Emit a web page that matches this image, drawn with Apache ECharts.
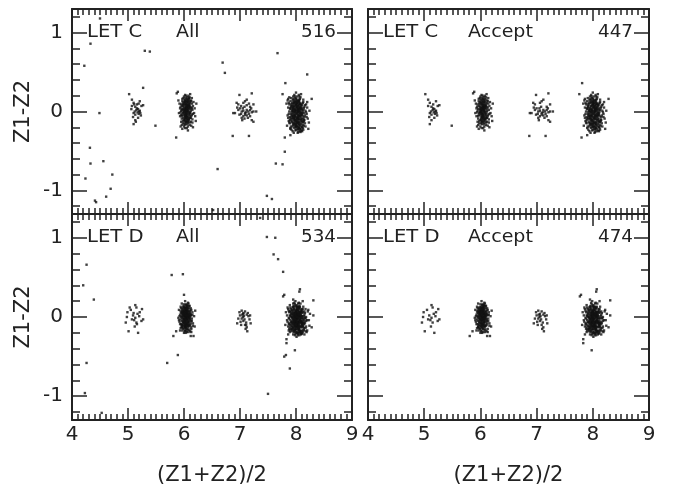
<!DOCTYPE html>
<html>
<head>
<meta charset="utf-8">
<script src="https://cdn.jsdelivr.net/npm/echarts@6/dist/echarts.min.js"></script>
<style>
  html, body { margin: 0; padding: 0; background: #fff; }
  #chart { width: 673px; height: 487px; }
</style>
</head>
<body>
<div id="chart"></div>
<script>
// ---- tick values ----
const xRange = [4, 9];
const yRange = [-1.3, 1.3];
const yMajorTicks = [-1, 0, 1];
const yMinorTicks = [-1.2, -0.8, -0.6, -0.4, -0.2, 0.2, 0.4, 0.6, 0.8, 1.2];

// ---- panel annotations ----
const letNames = ['LET C', 'LET C', 'LET D', 'LET D'];
const selNames = ['All', 'Accept', 'All', 'Accept'];

// ---- LET C events: [ (Z1+Z2)/2 , Z1-Z2 ] ----
const letC_accepted = [
  // Z ~ 5
  [5.02,0.22],[5.07,0.15],[5.10,0.11],[5.13,0.06],[5.15,0.02],[5.10,-0.02],[5.13,-0.04],[5.18,0.03],[5.21,0.01],[5.18,-0.08],
  [5.13,-0.11],[5.10,-0.16],[5.21,0.13],[5.24,0.07],[5.27,0.08],[5.19,-0.03],[5.22,-0.02],[5.16,0.04],[5.07,0.07],[5.20,0.00],
  [5.17,-0.01],[5.49,-0.18],[5.12,0.00],[5.16,0.09],[5.09,-0.07],[5.23,-0.05],
  // Z ~ 6
  [6.02,0.01],[6.05,-0.03],[6.08,0.04],[5.99,0.06],[6.04,0.09],[6.11,-0.01],[6.07,-0.07],[5.97,-0.04],[6.01,-0.09],[6.13,0.05],
  [6.06,0.02],[6.03,0.05],[6.09,-0.04],[6.00,0.02],[5.98,0.10],[6.10,0.08],[6.04,-0.06],[6.12,-0.08],[5.95,0.01],[6.07,0.12],
  [6.02,-0.12],[6.15,0.02],[6.05,0.14],[5.96,-0.09],[6.09,-0.11],[6.01,0.15],[6.14,-0.04],[6.03,-0.02],[6.06,0.06],[6.00,-0.05],
  [6.08,0.00],[5.99,-0.01],[6.11,0.11],[6.04,0.03],[6.07,-0.14],[5.94,0.06],[6.16,0.07],[6.02,0.08],[6.05,-0.10],[6.10,-0.06],
  [5.97,0.13],[6.13,0.13],[6.03,-0.16],[6.18,-0.02],[5.93,-0.06],[6.06,0.18],[6.00,0.19],[6.12,-0.13],[5.98,-0.15],[6.09,0.16],
  [6.04,0.00],[6.07,0.03],[6.01,-0.03],[6.05,0.07],[6.08,-0.09],[6.02,0.12],[5.96,0.03],[6.11,0.03],[6.06,-0.05],[6.03,0.10],
  [6.15,-0.10],[5.92,0.10],[6.19,0.04],[6.00,-0.19],[6.10,-0.17],[6.05,-0.21],[5.95,-0.13],[6.14,0.17],[6.20,-0.06],[5.91,-0.02],
  [6.02,0.21],[6.08,0.20],[6.13,-0.18],[5.99,0.17],[6.17,0.12],[6.04,-0.13],[6.06,0.10],[6.01,0.05],[6.09,0.07],[6.03,-0.07],
  [5.87,0.23],[5.89,0.25],[5.90,0.14],[6.22,0.10],[6.21,-0.12],[5.94,-0.19],[6.16,-0.20],[6.07,-0.24],[5.97,-0.22],[6.11,0.22],
  [6.04,0.04],[6.01,-0.01],[6.07,0.01],[6.03,-0.04],[6.06,0.08],[5.99,0.03],[6.09,0.05],[6.02,-0.07],[6.05,0.12],[6.08,-0.02],
  [6.00,0.09],[6.04,-0.08],[6.10,-0.03],[5.98,-0.02],[6.06,-0.10],[6.03,0.02],[6.12,0.01],[6.01,0.11],[6.07,-0.12],[5.97,0.07],
  [6.05,0.05],[6.02,0.14],[6.09,0.10],[6.04,-0.04],[5.96,-0.06],[6.11,0.06],[6.00,-0.11],[6.08,0.13],[6.03,-0.13],[6.06,-0.01],
  [6.13,-0.06],[5.99,0.12],[6.05,0.16],[6.01,0.03],[6.10,-0.14],[5.95,0.09],[6.07,0.15],[6.04,0.06],[6.02,-0.10],[6.08,0.07],
  [6.14,0.10],[5.98,-0.12],[6.06,-0.16],[6.03,0.17],[6.11,-0.08],[5.94,-0.01],[6.00,0.00],[6.09,-0.09],[6.05,-0.07],[6.12,0.14],
  [5.97,0.16],[6.16,-0.03],[6.01,-0.15],[6.07,-0.19],[5.93,0.04],[6.15,-0.14],[6.04,0.20],[6.10,0.18],[5.96,-0.17],[6.02,-0.21],
  // Z ~ 7
  [6.99,0.21],[7.21,0.23],[7.12,0.15],[7.09,0.13],[7.06,0.11],[6.94,0.11],[7.00,0.04],[6.97,0.02],[6.91,-0.02],[7.03,0.00],
  [7.06,0.01],[7.09,-0.02],[7.12,0.02],[7.15,0.00],[7.18,0.02],[7.21,-0.01],[7.24,0.00],[7.29,0.00],[7.12,-0.05],[7.09,-0.04],
  [7.06,-0.06],[7.18,-0.06],[7.21,-0.11],[7.24,-0.13],[7.03,-0.08],[6.99,-0.04],[6.88,-0.02],[7.18,0.06],[7.24,0.09],[7.05,0.04],
  [7.11,-0.01],[7.16,-0.03],[6.87,-0.31],[7.16,-0.31],[7.02,-0.03],[6.95,0.05],[7.08,0.06],[7.14,-0.08],[6.97,0.09],[7.20,0.04],
  [7.04,-0.11],
  // Z ~ 8
  [8.01,-0.03],[7.98,0.02],[8.05,-0.06],[7.95,-0.08],[8.08,0.03],[8.03,0.07],[7.97,-0.12],[8.10,-0.09],[7.93,0.01],[8.06,-0.14],
  [8.00,0.05],[8.04,-0.01],[7.99,-0.05],[8.12,0.00],[7.91,-0.03],[8.02,0.10],[7.96,0.06],[8.09,0.08],[8.07,-0.18],[7.94,-0.15],
  [8.02,-0.08],[7.99,-0.10],[8.05,0.01],[8.11,-0.04],[7.92,0.07],[8.03,-0.20],[8.14,0.04],[7.97,0.11],[8.06,0.12],[7.89,-0.07],
  [8.00,-0.16],[8.08,-0.11],[7.95,-0.01],[8.04,0.04],[8.13,-0.13],[7.98,-0.19],[8.01,0.13],[7.90,0.03],[8.10,0.07],[8.07,-0.02],
  [7.96,-0.04],[8.03,0.02],[7.99,0.08],[8.05,-0.10],[7.93,-0.10],[8.15,-0.07],[8.02,-0.13],[7.88,0.00],[8.09,-0.16],[8.00,0.16],
  [7.94,0.09],[8.12,0.11],[8.06,0.15],[7.97,0.15],[8.04,-0.23],[7.91,-0.19],[8.17,0.01],[7.87,-0.12],[8.11,-0.20],[7.99,-0.24],
  [8.08,0.18],[7.95,0.19],[8.02,0.19],[8.16,-0.15],[7.86,0.05],[8.18,0.09],[7.92,-0.23],[8.07,-0.25],[8.13,0.15],[7.90,0.13],
  [8.01,0.00],[8.03,-0.05],[7.98,-0.07],[8.06,-0.04],[8.00,-0.12],[7.96,0.03],[8.05,0.08],[8.08,-0.07],[7.93,-0.06],[8.10,0.02],
  [8.02,0.05],[7.97,-0.01],[8.04,-0.15],[7.99,0.01],[8.09,-0.01],[7.95,-0.17],[8.11,-0.12],[8.01,0.09],[7.92,0.04],[8.07,0.06],
  [8.14,-0.10],[7.89,-0.15],[8.03,0.13],[7.98,-0.14],[8.06,-0.21],[8.00,-0.20],[7.94,0.14],[8.12,-0.17],[8.15,0.06],[7.88,0.09],
  [8.19,-0.03],[7.85,-0.05],[8.05,0.21],[7.97,0.21],[8.10,-0.24],[7.96,-0.27],[8.03,-0.27],[8.21,-0.09],[8.20,0.12],[7.84,-0.18],
  [8.24,0.01],[8.28,0.16],[7.86,0.16],[8.13,-0.23],[7.91,0.17],[8.09,0.22],[8.00,0.24],[8.17,-0.19],[8.22,-0.22],[7.83,0.10],
  [7.81,0.36],[7.76,0.22],[7.80,-0.33],[7.90,-0.30],[8.04,0.03],[7.99,-0.02],[8.02,-0.10],[8.07,0.10],[7.97,0.07],[8.05,-0.17],
  [8.02,-0.02],[7.99,0.03],[8.04,-0.07],[7.96,-0.09],[8.07,0.01],[8.01,0.06],[7.98,-0.11],[8.09,-0.05],[7.94,0.02],[8.05,-0.13],
  [8.00,0.08],[8.03,0.00],[7.97,-0.06],[8.11,-0.02],[7.92,-0.05],[8.01,0.11],[7.95,0.04],[8.08,0.05],[8.06,-0.16],[7.93,-0.13],
  [8.03,-0.09],[7.98,-0.04],[8.06,0.03],[8.12,-0.06],[7.91,0.09],[8.02,-0.18],[8.13,0.02],[7.96,0.12],[8.05,0.14],[7.90,-0.09],
  [7.99,-0.17],[8.09,-0.13],[7.94,-0.03],[8.05,0.05],[8.14,-0.12],[7.97,-0.21],[8.02,0.15],[7.89,0.04],[8.11,0.09],[8.08,-0.04],
  [7.95,-0.06],[8.04,0.01],[8.00,0.10],[8.06,-0.09],[7.92,-0.08],[8.16,-0.05],[8.01,-0.14],[7.87,-0.03],[8.10,-0.19],[7.99,0.17],
  [7.93,0.11],[8.13,0.12],[8.07,0.16],[7.98,0.13],[8.03,-0.22],[7.90,-0.21],[8.18,-0.01],[7.88,-0.14],[8.12,-0.21],[8.00,-0.23],
  [8.04,-0.04],[8.01,-0.07],[7.97,-0.10],[8.07,-0.06],[8.02,-0.15],[7.95,0.01],[8.06,0.09],[8.09,-0.10],[7.92,-0.01],[8.11,0.04],
  [8.03,0.07],[7.98,0.00],[8.05,-0.20],[7.96,-0.15],[8.10,-0.03],[7.94,-0.19],[8.12,-0.14],[8.00,0.12],[7.91,0.06],[8.08,0.10],
  [8.15,-0.11],[7.89,-0.11],[8.04,0.11],[7.97,-0.16],[8.07,-0.22],[8.01,-0.19],[7.95,0.16],[8.14,-0.18],[8.16,0.08],[7.87,0.11],
  [8.19,-0.07],[7.86,-0.08],[8.06,0.19],[7.98,0.19],[8.11,-0.25],[7.94,-0.25],[8.04,-0.26],[8.20,0.05],[8.23,-0.14],[7.85,0.14]
];
const letC_rejected = [
  [4.50,1.18],[4.33,0.86],[4.22,0.58],[4.49,-0.02],[4.32,-0.46],[4.33,-0.66],[4.56,-0.63],[4.24,-0.85],[4.72,-0.80],[4.69,-0.98],
  [4.61,-1.08],[4.41,-1.13],[4.43,-1.15],[5.30,0.77],[5.39,0.76],[5.27,0.30],[5.86,-0.33],[6.69,0.62],[6.73,0.49],[6.60,-0.73],
  [6.52,-1.25],[7.67,0.74],[7.80,-0.51],[7.64,-0.66],[7.76,-0.67],[7.48,-1.07],[7.57,-1.11],[8.20,0.47],
  [6.04,-0.01],[6.10,0.13],[5.98,0.08],[8.03,-0.09],[7.95,0.05],[8.08,-0.22],[7.12,0.08],[5.11,0.09],
  [6.05,0.01],[6.02,-0.05],[6.08,0.09],[5.99,-0.08],[6.06,-0.13],[6.03,0.13],[6.11,-0.02],[5.97,0.02],[6.09,0.17],[6.01,-0.17],
  [6.14,0.04],[5.95,-0.04],
  [8.01,0.02],[7.97,-0.08],[8.06,-0.01],[8.03,-0.12],[7.94,0.07],[8.09,0.04],[8.00,-0.18],[7.92,-0.12],[8.12,-0.09],[8.05,0.13],
  [7.96,0.10],[8.14,-0.02],[7.90,-0.22],[8.08,-0.26],[7.88,0.18],
  [7.02,0.07],[7.16,0.10],[7.08,-0.09],[5.06,0.03],[5.19,0.10],[5.14,-0.13]
];

// ---- LET D events ----
const letD_accepted = [
  // Z ~ 5
  [4.99,0.06],[4.98,0.00],[4.96,-0.07],[5.01,-0.18],[5.13,0.15],[5.15,0.12],[5.09,0.02],[5.13,-0.01],[5.11,-0.04],[5.15,-0.07],
  [5.18,-0.20],[5.21,0.06],[5.24,-0.05],[5.27,-0.03],[5.17,0.04],[5.05,0.09],[5.12,-0.12],[5.20,0.01],[5.07,-0.03],[5.25,0.10],
  // Z ~ 6
  [6.03,-0.01],[6.00,0.03],[6.06,-0.04],[5.98,-0.06],[6.08,0.02],[6.02,0.06],[5.96,0.01],[6.05,-0.09],[6.10,-0.02],[6.01,-0.12],
  [5.99,0.09],[6.07,0.08],[6.04,0.03],[5.97,-0.10],[6.11,0.05],[6.02,-0.05],[6.05,0.11],[5.95,0.05],[6.09,-0.07],[6.00,-0.02],
  [6.06,0.00],[6.03,0.08],[5.98,0.02],[6.12,-0.05],[6.01,0.13],[6.04,-0.14],[5.94,-0.03],[6.08,-0.11],[6.13,0.09],[5.99,-0.15],
  [6.02,0.01],[6.05,0.04],[6.07,-0.06],[6.00,0.07],[5.97,-0.01],[6.10,0.01],[6.03,-0.08],[6.06,-0.12],[5.96,0.08],[6.09,0.11],
  [6.04,0.00],[6.01,-0.07],[6.08,0.06],[5.98,0.12],[6.14,-0.02],[5.93,0.03],[6.11,-0.10],[6.02,-0.17],[6.06,0.14],[5.95,-0.09],
  [6.00,-0.04],[6.07,0.03],[6.03,0.05],[6.05,-0.02],[5.99,0.04],[6.04,-0.10],[6.09,0.00],[6.01,0.10],[5.97,0.06],[6.12,0.03],
  [6.15,0.06],[5.92,-0.06],[6.07,-0.16],[5.96,-0.13],[6.10,0.14],[6.16,-0.08],[6.03,0.15],[5.91,0.09],[6.13,-0.15],[6.00,-0.20],
  [6.06,0.05],[6.02,-0.03],[5.98,-0.08],[6.08,-0.03],[6.04,0.07],[6.18,0.01],[5.94,0.13],[6.11,-0.18],[6.05,-0.19],[5.90,-0.01],
  [5.81,-0.24],[6.12,-0.24],[6.17,-0.24],[5.86,-0.18],[6.08,0.17],[5.96,0.17],[6.02,0.20],[6.20,0.08],[6.19,-0.12],[5.93,-0.17],
  [6.02,0.00],[6.05,-0.03],[6.00,0.05],[6.07,0.04],[5.98,-0.03],[6.04,0.09],[6.01,-0.09],[6.09,-0.05],[6.03,0.03],[5.97,0.04],
  [6.06,-0.08],[6.02,0.11],[6.08,0.00],[5.99,-0.11],[6.04,-0.06],[6.10,0.07],[6.00,0.01],[6.05,0.06],[5.96,-0.05],[6.07,-0.10],
  [6.03,-0.12],[6.01,0.08],[6.11,-0.03],[5.98,0.07],[6.06,0.09],[6.04,-0.01],[6.02,-0.14],[6.09,0.03],[5.95,0.00],[6.00,-0.07],
  [6.05,0.13],[6.12,-0.08],[5.97,0.10],[6.03,-0.04],[6.08,-0.13],[6.01,0.02],[6.06,-0.02],[5.99,0.06],[6.10,-0.11],[6.04,0.12],
  [5.94,0.07],[6.13,0.02],[6.02,-0.10],[6.07,0.11],[5.96,-0.12],[6.05,-0.15],[6.00,0.12],[6.11,0.08],[6.03,0.10],[5.98,-0.14],
  [6.09,-0.16],[6.14,-0.05],[5.93,-0.09],[6.06,0.15],[6.01,-0.18],[6.12,0.11],[5.95,0.11],[6.04,0.16],[6.08,-0.19],[5.97,-0.17],
  [6.02,0.04],[6.06,-0.06],[6.00,-0.03],[6.05,0.01],[6.03,0.07],[6.07,-0.01],[5.99,0.00],[6.04,-0.11],[6.10,0.04],[6.01,0.06],
  [5.92,0.01],[6.15,0.03],[6.03,-0.20],[6.09,0.14],[5.94,-0.14],[6.16,-0.11],[6.00,0.16],[6.07,0.18],[5.91,-0.04],[6.13,-0.19],
  // Z ~ 7
  [6.99,0.06],[7.03,0.08],[7.06,0.04],[7.05,0.00],[7.00,0.02],[7.09,0.07],[7.12,0.03],[7.15,0.01],[7.18,0.02],[6.97,-0.02],
  [7.01,-0.06],[7.06,-0.05],[7.11,-0.07],[6.95,-0.08],[7.12,-0.13],[7.09,-0.10],[7.17,-0.03],[7.19,-0.08],[7.03,-0.02],[7.07,0.01],
  [7.10,-0.15],[7.13,-0.18],[7.04,0.03],[7.08,-0.03],[7.14,0.05],[7.02,-0.10],
  // Z ~ 8
  [8.01,-0.04],[7.97,0.00],[8.05,-0.07],[7.94,-0.09],[8.08,0.02],[8.03,0.05],[7.98,-0.13],[8.11,-0.10],[7.92,0.00],[8.06,-0.15],
  [8.00,0.03],[8.04,-0.02],[7.99,-0.06],[8.13,-0.01],[7.90,-0.04],[8.02,0.09],[7.95,0.06],[8.09,0.07],[8.07,-0.18],[7.93,-0.15],
  [8.02,-0.09],[7.98,-0.11],[8.05,0.00],[8.11,-0.05],[7.91,0.07],[8.03,-0.19],[8.15,0.03],[7.96,0.10],[8.06,0.11],[7.88,-0.08],
  [8.00,-0.16],[8.09,-0.12],[7.95,-0.02],[8.04,0.04],[8.14,-0.14],[7.97,-0.18],[8.01,0.12],[7.89,0.02],[8.12,0.06],[8.07,-0.03],
  [7.96,-0.05],[8.03,0.01],[7.99,0.07],[8.05,-0.11],[7.92,-0.11],[8.16,-0.08],[8.02,-0.13],[7.87,-0.01],[8.10,-0.17],[8.00,0.14],
  [7.93,0.09],[8.12,0.10],[8.07,0.13],[7.96,0.14],[8.04,-0.21],[7.90,-0.17],[8.18,0.00],[7.86,-0.12],[8.12,-0.19],[7.99,-0.21],
  [8.01,-0.01],[8.03,-0.06],[7.98,-0.08],[8.06,-0.05],[8.00,-0.12],[7.95,0.03],[8.05,0.07],[8.08,-0.08],[7.93,-0.06],[8.10,0.01],
  [8.02,0.04],[7.97,-0.03],[8.04,-0.16],[7.99,0.02],[8.09,-0.02],[7.94,-0.16],[8.11,-0.13],[8.01,0.08],[7.91,0.04],[8.07,0.05],
  [8.14,-0.09],[7.88,-0.15],[8.03,0.12],[7.98,-0.15],[8.06,-0.20],[8.00,-0.19],[7.94,0.12],[8.13,-0.17],[8.16,0.05],[7.87,0.08],
  [8.20,-0.04],[7.84,-0.04],[8.05,0.18],[7.97,0.18],[8.09,-0.22],[8.17,-0.14],[8.22,0.09],[7.85,0.12],[8.19,-0.19],[7.89,0.15],
  [8.01,-0.03],[8.04,-0.08],[7.96,-0.10],[8.08,-0.05],[8.02,0.02],[7.99,-0.01],[8.06,0.03],[7.98,0.05],[8.03,-0.11],[8.10,-0.07],
  [7.77,0.26],[8.06,0.32],[8.31,0.21],[8.31,0.02],[7.83,-0.33],[7.83,-0.28],[7.98,-0.42],[8.28,-0.13],[7.79,0.28],[8.07,0.35],
  [8.25,0.04],[8.24,-0.11],[7.95,0.22],[8.12,0.20],[7.86,-0.22],[8.15,-0.22],[7.82,0.06],[7.81,-0.10],
  [8.02,-0.03],[7.98,0.01],[8.04,-0.06],[7.95,-0.07],[8.07,0.00],[8.01,0.05],[7.97,-0.12],[8.10,-0.08],[7.93,-0.01],[8.05,-0.14],
  [8.00,0.07],[8.03,-0.01],[7.98,-0.05],[8.12,-0.03],[7.91,-0.06],[8.02,0.10],[7.96,0.05],[8.08,0.06],[8.06,-0.17],[7.94,-0.13],
  [8.03,-0.10],[7.99,-0.09],[8.06,0.01],[8.12,-0.07],[7.92,0.05],[8.02,-0.20],[8.14,0.01],[7.97,0.09],[8.05,0.10],[7.89,-0.10],
  [8.01,-0.15],[8.08,-0.13],[7.94,-0.04],[8.05,0.03],[8.13,-0.12],[7.96,-0.19],[8.02,0.13],[7.90,0.01],[8.11,0.05],[8.08,-0.01],
  [7.97,-0.07],[8.04,0.02],[7.99,0.06],[8.06,-0.12],[7.93,-0.12],[8.15,-0.06],[8.01,-0.12],[7.88,-0.02],[8.09,-0.18],[8.01,0.15],
  [7.94,0.08],[8.11,0.08],[8.06,0.12],[7.97,0.12],[8.03,-0.23],[7.91,-0.15],[8.17,-0.02],[7.87,-0.09],[8.11,-0.21],[7.98,-0.23],
  [8.00,-0.02],[8.02,-0.08],[7.99,-0.07],[8.07,-0.04],[8.01,-0.11],[7.96,0.02],[8.04,0.08],[8.09,-0.06],[7.92,-0.07],[8.09,0.02],
  [8.03,0.04],[7.98,-0.02],[8.05,-0.16],[7.98,0.03],[8.10,-0.01],[7.95,-0.14],[8.12,-0.11],[8.00,0.09],[7.92,0.02],[8.06,0.06],
  [8.13,-0.08],[7.89,-0.13],[8.04,0.13],[7.97,-0.16],[8.07,-0.19],[8.01,-0.20],[7.95,0.13],[8.14,-0.16],[8.15,0.07],[7.88,0.06],
  [8.18,-0.05],[7.85,-0.06],[8.04,0.17],[7.98,0.16],[8.10,-0.20],[8.18,-0.12],[8.21,0.07],[7.86,0.10],[8.20,-0.17],[7.90,0.12],
  [8.00,-0.05],[8.05,-0.09],[7.97,-0.09],[8.07,-0.06],[8.03,0.03],[7.99,0.00],[8.05,0.04],[7.99,0.04],[8.04,-0.12],[8.11,-0.09],
  [8.02,-0.06],[7.96,-0.03],[8.08,0.04],[8.00,0.01],[8.03,-0.14],[7.94,0.00],[8.10,0.10],[7.93,-0.18],[8.16,-0.01],[8.06,-0.23],
  [7.99,0.20],[8.08,0.17],[7.91,0.10],[8.13,0.13],[7.89,-0.19],[8.17,-0.18],[8.01,-0.25],[7.95,-0.22],[8.23,-0.04],[7.84,0.02]
];
const letD_rejected = [
  [4.26,0.66],[4.20,0.40],[4.39,0.22],[4.26,-0.58],[4.23,-0.96],[4.53,-1.21],[7.48,1.01],[7.63,1.00],[7.60,0.79],[7.68,0.73],
  [7.77,0.57],[5.78,0.53],[5.98,0.54],[6.00,0.28],[5.89,-0.48],[5.70,-0.58],[7.50,-0.97],[7.79,-0.50],[7.82,-0.48],[7.89,-0.65],
  [7.36,1.25],[6.05,0.02],[8.02,-0.07],[7.96,0.01],[8.09,0.09],[6.01,-0.11],
  [6.03,0.02],[6.00,-0.06],[6.06,0.07],[5.98,0.04],[6.08,-0.09],[6.02,-0.13],[6.05,0.10],[5.96,-0.10],[6.11,0.00],[6.04,-0.17],
  [5.99,0.14],[6.13,-0.13],
  [8.02,0.00],[7.97,-0.06],[8.05,-0.03],[8.00,-0.09],[7.94,0.04],[8.08,-0.11],[8.03,0.08],[7.92,-0.09],[8.11,0.01],[7.98,-0.17],
  [8.06,0.14],[8.14,-0.04],[7.89,0.07],[8.09,-0.21],[7.95,0.17],[8.17,0.10],[7.87,-0.17],
  [7.06,0.05],[7.11,-0.10],[5.10,0.05],[5.16,-0.09],[5.03,0.12]
];

// All = accepted + rejected; Accept = accepted only
const panelData = [
  letC_accepted.concat(letC_rejected),
  letC_accepted,
  letD_accepted.concat(letD_rejected),
  letD_accepted
];

// ---- layout ----
const grids = [
  { left: 72,  top: 9,   width: 280, height: 205 },
  { left: 368, top: 9,   width: 281, height: 205 },
  { left: 72,  top: 214, width: 280, height: 208 },
  { left: 368, top: 214, width: 281, height: 208 }
];
const ink = '#222';
const dotInk = '#111';
const font = '"DejaVu Sans", sans-serif';
const frameLine = { show: true, onZero: false, lineStyle: { color: ink, width: 2 } };
const tickLine = { color: ink, width: 1.5 };

const xAxes = [], yAxes = [], series = [], graphics = [];

grids.forEach((g, i) => {
  const isBottom = i >= 2, isLeft = i % 2 === 0;
  const xBase = {
    gridIndex: i, type: 'value', min: xRange[0], max: xRange[1], interval: 1,
    axisLine: frameLine, splitLine: { show: false },
    axisTick: { show: true, inside: true, length: 12, lineStyle: tickLine },
    minorTick: { show: true, splitNumber: 10, length: 6, lineStyle: tickLine }
  };
  xAxes.push(Object.assign({}, xBase, {
    position: 'bottom',
    axisLabel: { show: isBottom, color: ink, fontFamily: font, fontSize: 20, margin: 5,
                 showMinLabel: true, showMaxLabel: true },
    name: isBottom ? '(Z1+Z2)/2' : '', nameLocation: 'middle', nameGap: 45,
    nameTextStyle: { color: ink, fontFamily: font, fontSize: 21 }
  }));
  xAxes.push(Object.assign({}, xBase, { position: 'top', axisLabel: { show: false } }));

  const yBase = {
    gridIndex: i, type: 'value', min: yRange[0], max: yRange[1],
    splitLine: { show: false }
  };
  ['left', 'right'].forEach(side => {
    yAxes.push(Object.assign({}, yBase, {
      position: side,
      axisLine: frameLine,
      axisTick: { show: true, inside: true, length: 15, lineStyle: tickLine, customValues: yMajorTicks },
      axisLabel: { show: side === 'left' && isLeft, color: ink, fontFamily: font, fontSize: 20, margin: 9,
                   customValues: yMajorTicks },
      name: side === 'left' && isLeft ? 'Z1-Z2' : '', nameLocation: 'middle', nameGap: 38,
      nameTextStyle: { color: ink, fontFamily: font, fontSize: 21 }
    }));
    yAxes.push(Object.assign({}, yBase, {
      position: side,
      axisLine: { show: false, onZero: false },
      axisTick: { show: true, inside: true, length: 8, lineStyle: tickLine, customValues: yMinorTicks },
      axisLabel: { show: false }
    }));
  });

  series.push({
    type: 'scatter', xAxisIndex: 2 * i, yAxisIndex: 4 * i,
    symbol: 'rect', symbolSize: 2.4, silent: true,
    itemStyle: { color: dotInk },
    data: panelData[i]
  });

  // panel annotations, aligned with the Z1-Z2 = 1 tick; the count is the number of events drawn
  const yText = g.top + g.height * (yRange[1] - 1) / (yRange[1] - yRange[0]);
  const textStyle = (txt, align) => ({
    text: txt, fill: ink, font: '17px ' + font, align: align, verticalAlign: 'middle'
  });
  graphics.push({ type: 'text', x: g.left + 15, y: yText, scaleX: 1.15, style: textStyle(letNames[i], 'left') });
  graphics.push({ type: 'text', x: g.left + (isLeft ? 104 : 100), y: yText, scaleX: 1.12, style: textStyle(selNames[i], 'left') });
  graphics.push({ type: 'text', x: g.left + g.width - 16, y: yText, scaleX: 1.08,
                  style: textStyle(String(panelData[i].length), 'right') });
});

const chart = echarts.init(document.getElementById('chart'), null, { renderer: 'canvas' });
chart.setOption({
  animation: false,
  backgroundColor: '#fff',
  grid: grids.map(g => Object.assign({ containLabel: false }, g)),
  xAxis: xAxes,
  yAxis: yAxes,
  series: series,
  graphic: graphics
});
</script>
</body>
</html>
